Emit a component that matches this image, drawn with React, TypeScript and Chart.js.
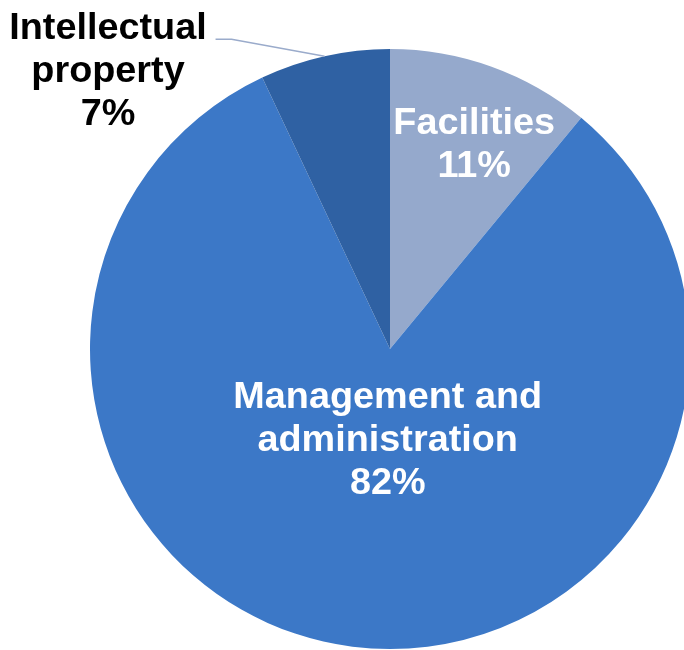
import React, { useEffect, useRef } from "react";
import { Chart, registerables } from "chart.js";

Chart.register(...registerables);

const categories: string[] = ["Facilities", "Management and administration", "Intellectual property"];
const labelLines: string[][] = [["Facilities"], ["Management and", "administration"], ["Intellectual", "property"]];
const shares: number[] = [11, 82, 7];
const sliceColors: string[] = ["#95a9cc", "#3c78c7", "#2f61a3"];

const FONT = '"Liberation Sans", Arial, sans-serif';

const labelPlugin = {
  id: "sliceLabels",
  afterDraw(chart: any) {
    const ctx = chart.ctx as CanvasRenderingContext2D;
    const meta = chart.getDatasetMeta(0);
    const total = shares.reduce((a, b) => a + b, 0);
    ctx.save();
    meta.data.forEach((arc: any, i: number) => {
      const p = arc.getProps(["x", "y", "startAngle", "endAngle", "outerRadius"], true);
      const mid = (p.startAngle + p.endAngle) / 2;
      const R = p.outerRadius;
      const pct = Math.round((shares[i] / total) * 100) + "%";
      const lines = [...labelLines[i], pct];
      const fontSize = 36;
      const lh = 43;
      const cap = 26;
      let ax: number, ay: number, color: string;
      if (i === 0) {
        ax = p.x + Math.cos(mid) * R * 0.73 + 10;
        ay = p.y + Math.sin(mid) * R * 0.73;
        color = "#ffffff";
      } else if (i === 1) {
        ax = p.x + Math.cos(mid) * R * 0.3 + 9;
        ay = p.y + Math.sin(mid) * R * 0.3;
        color = "#ffffff";
      } else {
        // outside label with leader line
        const ex = p.x + Math.cos(mid) * R;
        const ey = p.y + Math.sin(mid) * R;
        const bx = ex - 93;
        const by = ey - 17;
        ctx.strokeStyle = "#9aabcb";
        ctx.lineWidth = 1.5;
        ctx.beginPath();
        ctx.moveTo(ex, ey);
        ctx.lineTo(bx, by);
        ctx.lineTo(bx - 16, by);
        ctx.stroke();
        ax = 108;
        ay = by + 43 - cap / 2;
        color = "#000000";
      }
      ctx.font = `bold ${fontSize}px ${FONT}`;
      ctx.fillStyle = color;
      ctx.textAlign = "center";
      ctx.textBaseline = "alphabetic";
      const first = ay - ((lines.length - 1) * lh) / 2 + cap / 2;
      lines.forEach((t, k) => {
        ctx.save();
        ctx.translate(ax, first + k * lh);
        ctx.scale(1.05, 1);
        ctx.fillText(t, 0, 0);
        ctx.restore();
      });
    });
    ctx.restore();
  },
};

export default function App() {
  const ref = useRef<HTMLCanvasElement | null>(null);
  useEffect(() => {
    if (!ref.current) return;
    const chart = new Chart(ref.current, {
      type: "pie",
      data: {
        labels: categories,
        datasets: [
          {
            data: shares,
            backgroundColor: sliceColors,
            borderWidth: 0,
          },
        ],
      },
      options: {
        responsive: false,
        animation: false,
        layout: { padding: { left: 90, right: 10, top: 49, bottom: 1 } },
        plugins: {
          legend: { display: false },
          tooltip: { enabled: false },
        },
      },
      plugins: [labelPlugin],
    });
    return () => chart.destroy();
  }, []);
  return (
    <div style={{ position: "fixed", left: 0, top: 0, width: 684, height: 650, overflow: "hidden", background: "#fff" }}>
      <canvas ref={ref} width={700} height={650} style={{ width: 700, height: 650, display: "block" }} />
    </div>
  );
}
